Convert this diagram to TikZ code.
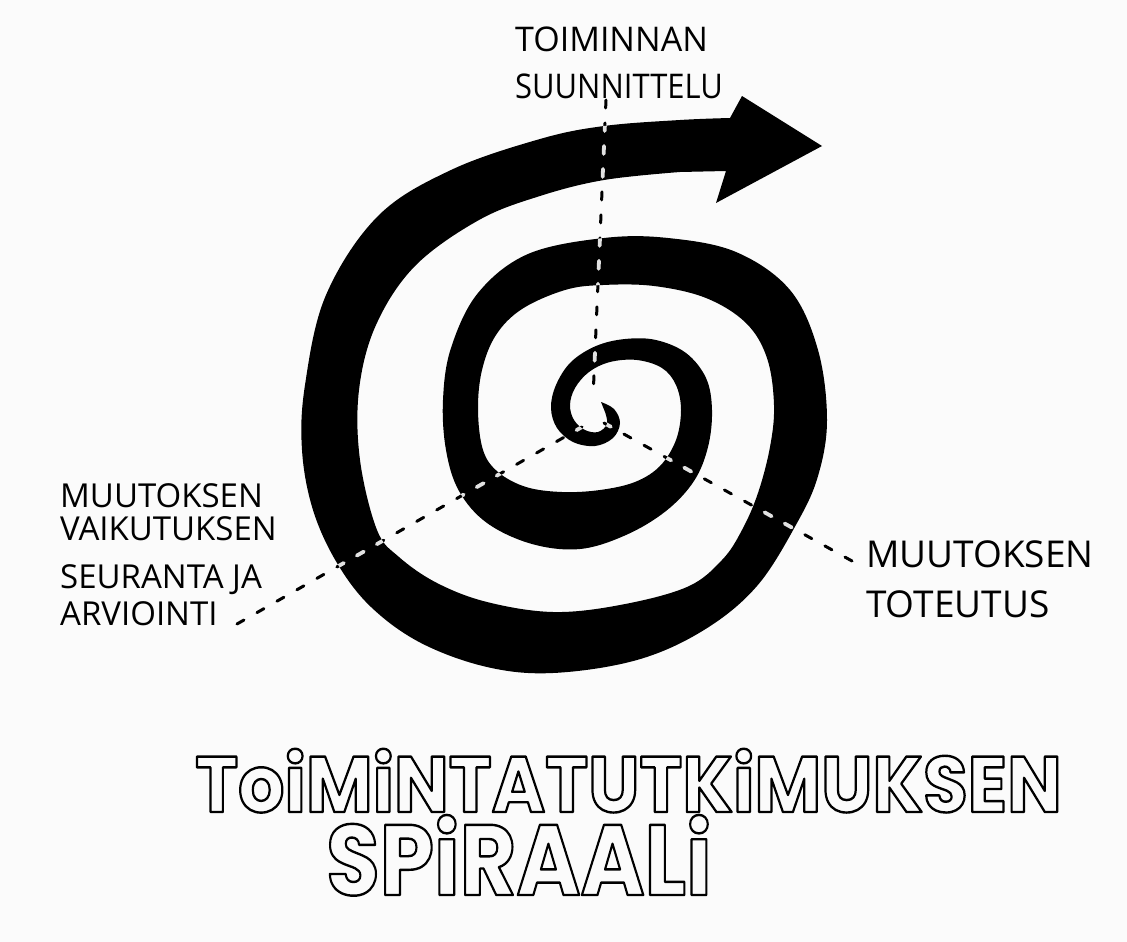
\documentclass[tikz,border=0pt]{standalone}
\usepackage{fontspec}
\usepackage{graphicx}
\newfontfamily\handfont{Open Sans}
\newfontfamily\titlefont{Poppins}
\newcommand{\outlined}[1]{\special{pdf:literal direct 1 Tr 2.4 w 1 j}#1\special{pdf:literal direct 0 Tr}}
\definecolor{paper}{RGB}{251,251,251}
\definecolor{dashlight}{RGB}{225,225,225}
\def\spiralpath{plot[smooth,tension=0.6] coordinates{
 (601,402) (614,409) (620,423) (613,438) (595,446) (573,442) (557,428) (551,408)
 (556,385) (571,362) (596,346) (625,339) (656,340) (686,353) (706,378) (712,410)
 (708,447) (694,481) (666,511) (626,535) (580,549) (532,544) (487,523) (459,491)
 (446,450) (443,400) (451,348) (478,293) (528,254) (604,238) (668,238) (736,252)
 (790,290) (818,350) (827,420) (818,476) (797,523) (757,586) (704,630) (637,660)
 (553,673) (487,667) (421,643) (371,607) (337,563) (313,510) (302,450) (305,385)
 (326,295) (378,216) (451,170) (540,139) (604,126) (680,120) (730,118)}
 -- (742,96) -- (822,146) -- (716,203) -- (726,171)
 -- plot[smooth,tension=0.6] coordinates{
 (680,172) (604,180) (540,196) (479,220) (415,266) (376,325) (359,390) (360,460)
 (377,530) (399,557) (437,583) (487,602) (553,612) (620,605) (687,587) (722,560)
 (742,530) (758,493) (770,447) (774,405) (767,358) (746,323) (706,298) (654,286)
 (603,285) (565,290) (522,309) (496,335) (482,370) (478,410) (483,450) (498,472)
 (526,487) (562,492) (600,490) (635,482) (660,466) (676,440) (681,410) (676,385)
 (662,368) (637,360) (610,362) (589,372) (575,388) (570,405) (574,420) (585,430)
 (598,432) (607,424) (605,412)} -- cycle}
\begin{document}
\begin{tikzpicture}[x=1pt,y=-1pt,
  hand/.style={font=\handfont\fontsize{34}{47}\selectfont, align=left, inner sep=0pt, text=black},
  handleft/.style={hand, font=\handfont\fontsize{33}{39}\selectfont},
  handright/.style={hand, font=\handfont\fontsize{37}{50}\selectfont},
  titlestyle/.style={font=\titlefont\bfseries\fontsize{79}{90}\selectfont, inner sep=0pt, text=black},
  titlestyleb/.style={font=\titlefont\bfseries\fontsize{100}{110}\selectfont, inner sep=0pt, text=black},
  dashline/.style={line width=3pt, dash pattern=on 8pt off 15pt, line cap=round},
  dashwhite/.style={line width=3.8pt, dash pattern=on 8pt off 15pt, line cap=round, draw=dashlight}]
\useasboundingbox (0,0) rectangle (1127,942);
\fill[paper] (0,0) rectangle (1127,942);

% labels
\node[hand, anchor=north west] (plan) at (515,27) {TOIMINNAN\\\scalebox{0.91}[1]{SUUNNITTELU}};
\node[handleft, anchor=north west] (evalu) at (60,483) {MUUTOKSEN\\[-6pt]VAIKUTUKSEN\\[9pt]SEURANTA JA\\[-2pt]ARVIOINTI};
\node[handright, anchor=north west] (impl) at (866,540) {MUUTOKSEN\\TOTEUTUS};

% connector ends
\coordinate (t1) at (606,100);
\coordinate (t2) at (237,624);
\coordinate (t3) at (852,561);
\coordinate (c1) at (593,398);
\coordinate (c2) at (582,427);
\coordinate (c3) at (604,423);

% dashed connectors (black on paper)
\draw[dashline] (t1) -- (c1);
\draw[dashline] (t2) -- (c2);
\draw[dashline] (t3) -- (c3);

% spiral
\fill[black] \spiralpath;

% dashed connectors (light on the spiral)
\begin{scope}
\clip \spiralpath;
\draw[dashwhite] (t1) -- (c1);
\draw[dashwhite] (t2) -- (c2);
\draw[dashwhite] (t3) -- (c3);
\end{scope}

% title
\node[titlestyle, anchor=base west] (title1) at (195,812) {\scalebox{0.92}[1]{\outlined{ToiMiNTATUTKiMUKSEN}}};
\node[titlestyleb, anchor=base west] (title2) at (326,895) {\scalebox{0.87}[1]{\outlined{SPiRAALi}}};
\end{tikzpicture}
\end{document}
